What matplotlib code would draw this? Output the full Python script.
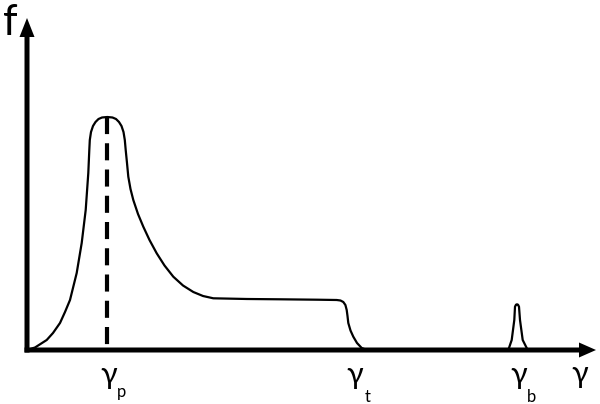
import matplotlib
matplotlib.use("Agg")
import matplotlib.pyplot as plt

# ---- data (schematic units: gamma along x, f along y) ----
main_gamma = [0, 8, 19.7, 26, 33, 38, 43, 49.7, 54.7, 58.7, 61.3, 62.3, 62.8, 64, 66,
              68.5, 71.5, 75, 80.3, 85.5, 89, 92, 94.5, 96.5, 97.8, 98.7, 100, 101.3,
              103.5, 106.3, 111, 116.3, 122.5, 129.7, 137.5, 146.3, 156, 166.3, 176,
              186.3, 220, 253, 290, 309.7, 313.5, 316.3, 318.4, 319.7, 320.5, 321.3,
              323.5, 326.3, 330, 334.7, 340]
main_f = [0, 2.5, 10, 17, 27, 38, 50, 77, 107, 140, 177, 200, 210, 218, 224,
          228, 231, 232.5, 233, 232.5, 231, 228, 224, 218, 210, 200, 187, 173.3,
          161, 150, 136, 123.3, 110, 96.7, 84.5, 73.3, 64.5, 58, 54, 51.7, 51, 50.7,
          50.3, 50, 49.5, 48, 45, 40, 34, 27, 19.5, 13.3, 7, 2, 0]

spike_gamma = [481.3, 484.7, 487.3, 488, 489, 490, 491, 492, 493, 495.7, 500.7]
spike_f = [0, 10, 30, 43.3, 45.3, 45.7, 45.3, 43.3, 30, 10, 0]

peak_gamma = 80.3
peak_f = 233

axis_x_max = 569
axis_y_max = 332

tick_names = ["p", "t", "b"]
tick_gamma = [80.3, 327, 491]

# ---- figure ----
fig = plt.figure(figsize=(6.0, 4.04), dpi=100)
ax = fig.add_axes([0, 0, 1, 1])
ax.set_xlim(-27, 573)
ax.set_ylim(-54, 350)
ax.axis("off")

fam = ["Lato", "DejaVu Sans"]

# axes with arrows
ax.arrow(-2.5, 0, axis_x_max + 2.5, 0, width=5, head_width=15, head_length=17,
         length_includes_head=True, fc="black", ec="none", zorder=3)
ax.arrow(0, -2.5, 0, axis_y_max + 2.5, width=5, head_width=15, head_length=19,
         length_includes_head=True, fc="black", ec="none", zorder=3)

# curves
ax.plot(main_gamma, main_f, color="black", lw=1.6, solid_joinstyle="round",
        solid_capstyle="round", zorder=2)
ax.plot(spike_gamma, spike_f, color="black", lw=1.6, solid_joinstyle="round", zorder=2)

# dashed peak marker
ax.plot([peak_gamma, peak_gamma], [peak_f, 0], color="black", lw=3,
        dashes=(4.1, 2.2), dash_capstyle="butt", zorder=1)

# labels
sub_base = [-47, -52, -52]
for name, g, sb in zip(tick_names, tick_gamma, sub_base):
    ax.text(g + 1, -34, "γ", fontsize=22, family=fam, ha="center", va="baseline")
    ax.text(g + 14, sb, name, fontsize=12, family=fam, ha="center", va="baseline")

ax.text(552.5, -33, "γ", fontsize=22, family=fam, ha="center", va="baseline")
ax.text(-17, 315, "f", fontsize=30, family=fam, ha="center", va="baseline")

fig.savefig("out.png", dpi=100)
